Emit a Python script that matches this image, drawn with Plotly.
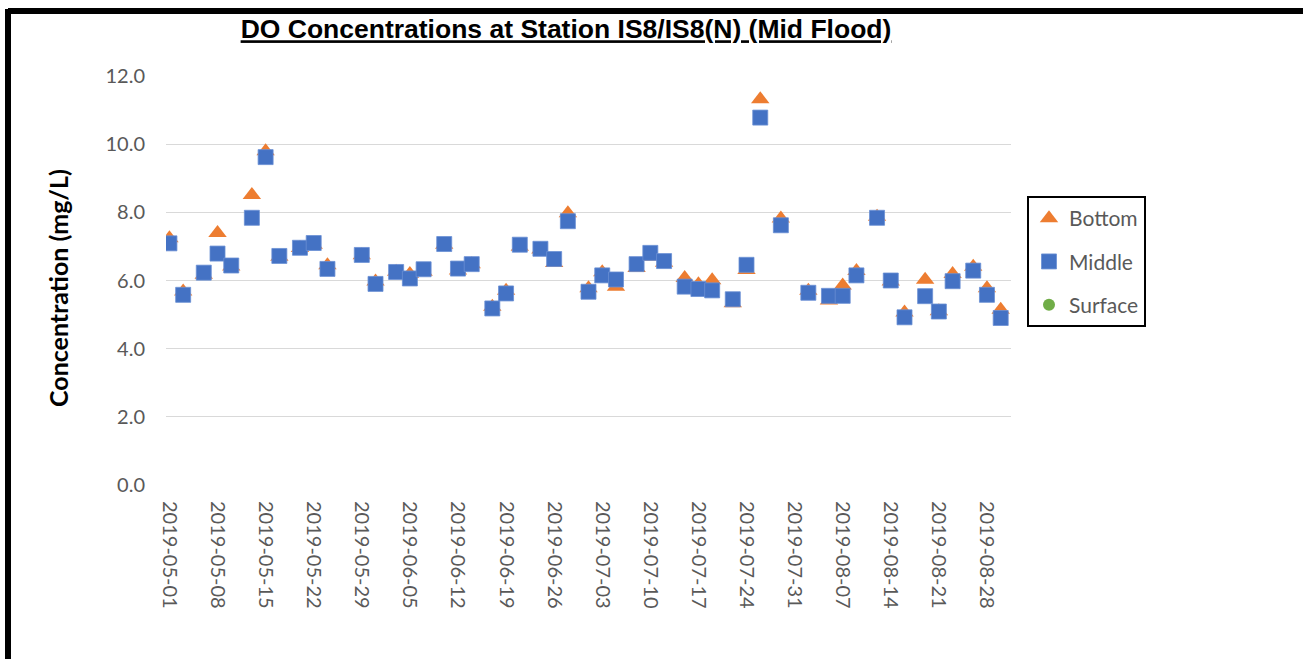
import plotly.graph_objects as go
import pandas as pd

dates = ["2019-05-01", "2019-05-03", "2019-05-06", "2019-05-08", "2019-05-10", "2019-05-13",
         "2019-05-15", "2019-05-17", "2019-05-20", "2019-05-22", "2019-05-24", "2019-05-29",
         "2019-05-31", "2019-06-03", "2019-06-05", "2019-06-07", "2019-06-10", "2019-06-12",
         "2019-06-14", "2019-06-17", "2019-06-19", "2019-06-21", "2019-06-24", "2019-06-26",
         "2019-06-28", "2019-07-01", "2019-07-03", "2019-07-05", "2019-07-08", "2019-07-10",
         "2019-07-12", "2019-07-15", "2019-07-17", "2019-07-19", "2019-07-22", "2019-07-24",
         "2019-07-26", "2019-07-29", "2019-08-02", "2019-08-05", "2019-08-07", "2019-08-09",
         "2019-08-12", "2019-08-14", "2019-08-16", "2019-08-19", "2019-08-21", "2019-08-23",
         "2019-08-26", "2019-08-28", "2019-08-30"]

bottom = [7.24, 5.68, 6.17, 7.39, 6.41, 8.51, 9.79, 6.70, 6.95, 7.05, 6.45, 6.74,
          5.97, 6.26, 6.19, 6.26, 7.05, 6.29, 6.48, 5.23, 5.70, 6.99, 6.91, 6.51,
          7.97, 5.77, 6.24, 5.82, 6.37, 6.70, 6.52, 6.07, 5.89, 6.01, 5.33, 6.31,
          11.32, 7.82, 5.70, 5.41, 5.85, 6.28, 7.87, 5.97, 5.06, 6.02, 5.10, 6.19,
          6.40, 5.77, 5.14]

middle = [7.09, 5.58, 6.23, 6.79, 6.44, 7.84, 9.62, 6.72, 6.96, 7.10, 6.34, 6.75,
          5.90, 6.25, 6.06, 6.33, 7.07, 6.35, 6.48, 5.18, 5.62, 7.05, 6.93, 6.63,
          7.74, 5.67, 6.15, 6.03, 6.48, 6.81, 6.57, 5.82, 5.75, 5.71, 5.45, 6.46,
          10.78, 7.62, 5.64, 5.55, 5.55, 6.15, 7.84, 6.00, 4.92, 5.54, 5.09, 5.98,
          6.29, 5.58, 4.90]

surface = []
surface_dates = []

x = pd.to_datetime(dates)

L, R, T, B = 166, 292, 76, 174
W, H = 1303, 659
PW, PH = W - L - R, H - T - B


def px(v):
    return (v - L) / PW


def py(v):
    return (H - B - v) / PH


fig = go.Figure()
fig.add_trace(go.Scatter(x=x, y=bottom, mode="markers", name="Bottom",
                         marker=dict(symbol="triangle-up", size=16, color="#ED7D31")))
fig.add_trace(go.Scatter(x=x, y=middle, mode="markers", name="Middle",
                         marker=dict(symbol="square", size=15, color="#4472C4",
                                     line=dict(color="#6A8FD4", width=0.8))))
fig.add_trace(go.Scatter(x=surface_dates if surface_dates else [None],
                         y=surface if surface else [None], mode="markers", name="Surface",
                         marker=dict(symbol="circle", size=12, color="#70AD47")))

fig.update_layout(
    width=W, height=H,
    margin=dict(l=L, r=R, t=T, b=B),
    paper_bgcolor="white", plot_bgcolor="white",
    title=dict(text="<u>DO Concentrations at Station IS8/IS8(N) (Mid Flood)</u>",
               x=566 / W, xanchor="center", y=1 - 29 / H, yanchor="middle",
               font=dict(family="Liberation Sans Narrow, Arial Narrow, Liberation Sans",
                         size=26.5, color="black", weight="bold")),
    xaxis=dict(type="date",
               range=["2019-04-30 12:00", "2019-08-31 12:00"],
               tick0="2019-05-01", dtick=7 * 86400000, tickformat="%Y-%m-%d",
               tickangle=90, showgrid=False, showline=False, zeroline=False,
               ticks="", ticklabelstandoff=15,
               tickfont=dict(family="Lato", size=20, color="#595959")),
    yaxis=dict(range=[0, 12], dtick=2, tickformat=".1f",
               showgrid=True, gridcolor="#D9D9D9", gridwidth=1.3,
               zeroline=False, showline=False, ticks="", ticklabelstandoff=20,
               tickfont=dict(family="Lato", size=20, color="#595959")),
    legend=dict(x=px(1027), y=py(196), xanchor="left", yanchor="top",
                bordercolor="black", borderwidth=2, bgcolor="white",
                font=dict(family="Lato", size=21, color="#595959"),
                itemwidth=30,
                tracegroupgap=13, traceorder="grouped"),
    showlegend=True,
    annotations=[dict(text="<b>Concentration (mg/L)</b>", textangle=-90,
                      xref="paper", yref="paper", x=px(58), y=py(288),
                      xanchor="center", yanchor="middle", showarrow=False,
                      font=dict(family="Lato", size=25, color="black"))],
    shapes=[
        dict(type="rect", xref="paper", yref="paper", x0=px(8), x1=px(1310),
             y0=py(14), y1=py(8), fillcolor="black", line=dict(width=0), layer="above"),
        dict(type="rect", xref="paper", yref="paper", x0=px(5), x1=px(11),
             y0=py(670), y1=py(9), fillcolor="black", line=dict(width=0), layer="above"),
    ],
)
for i, tr in enumerate(fig.data):
    tr.legendgroup = "g%d" % i

fig.write_html("out.html", config={"displayModeBar": False},
               post_script="document.body.style.margin='0';document.body.style.overflow='hidden';")
